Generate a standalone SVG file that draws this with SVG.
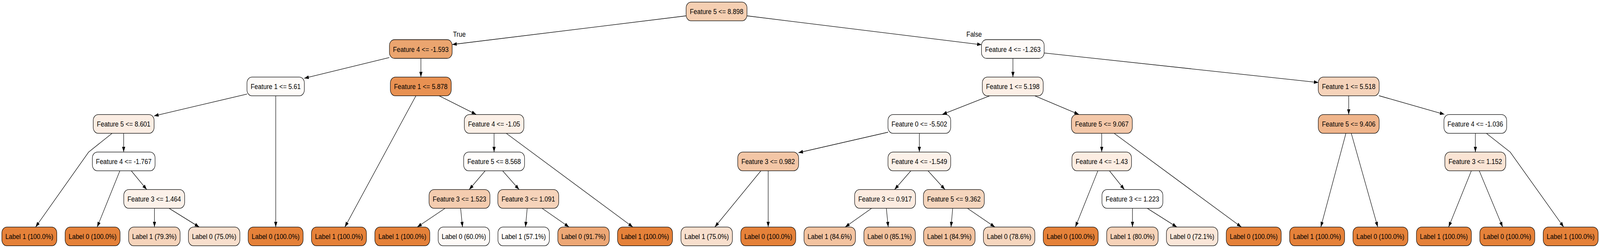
<svg xmlns="http://www.w3.org/2000/svg" width="4746" height="635" viewBox="0 0 4746 635" preserveAspectRatio="none" style="width:100%;height:100%">
<style>
.n rect{stroke:#000;stroke-width:1.33}
text{font-family:"Liberation Sans",Arial,Helvetica,sans-serif;font-size:18.67px;text-anchor:middle;fill:#000}
.e path{stroke:#000;stroke-width:1.33;fill:none;marker-end:url(#a)}
</style>
<defs>
<marker id="a" markerWidth="14" markerHeight="10" refX="13.3" refY="4.67" orient="auto" markerUnits="userSpaceOnUse"><path d="M0,0 L13.3,4.67 L0,9.33 z" fill="#000"/></marker>
</defs>
<rect width="4746" height="635" fill="#fff"/>
<g id="edges" class="e">
<path d="M2035.7,40.5 L1341.5,114"/>
<path d="M2215.3,40.5 L2911.7,114.6"/>
<path d="M1154.6,147.4 L902.6,200.4"/>
<path d="M1248.5,149.4 L1248.5,197.3"/>
<path d="M3004.6,149.4 L3004.6,197.3"/>
<path d="M3096.9,135.6 L3910.7,211.3"/>
<path d="M732.7,240.9 L457.1,296.8"/>
<path d="M817.9,245.3 L817.9,581.3"/>
<path d="M1233.7,245.3 L1023,581.3"/>
<path d="M1302.6,245.3 L1412.2,292.8"/>
<path d="M2935.7,245.3 L2795.4,292.8"/>
<path d="M3069.4,245.3 L3200,292.8"/>
<path d="M4000.6,245.3 L4000.6,293.3"/>
<path d="M4090.4,245 L4284.3,292.8"/>
<path d="M332.7,341.3 L262.8,389.5 L105.6,581.3"/>
<path d="M366.8,341.3 L366.8,389.3"/>
<path d="M1465.5,341.3 L1465.5,389.3"/>
<path d="M1501.5,341.3 L1877,581.3"/>
<path d="M2634.2,338.5 L2368.4,391"/>
<path d="M2727,341.3 L2727,389.3"/>
<path d="M3268,341.3 L3268,389.3"/>
<path d="M3304.6,341.3 L3682.1,581.3"/>
<path d="M3992.4,341.3 L3917.9,581.3"/>
<path d="M4008.2,341.3 L4086.7,581.3"/>
<path d="M4376.3,341.3 L4376.3,389.3"/>
<path d="M4408.8,341.3 L4479.7,389.5 L4638.3,581.3"/>
<path d="M355.6,437.3 L288.3,581.3"/>
<path d="M389.3,437.3 L435.2,485.3"/>
<path d="M1439.3,437.3 L1391.8,485.3"/>
<path d="M1490.8,437.3 L1539.8,485.3"/>
<path d="M2257.1,437.3 L2120.4,581.3"/>
<path d="M2278.6,437.3 L2278.6,581.3"/>
<path d="M2702,437.3 L2653.6,485.3"/>
<path d="M2752.6,437.3 L2803,485.3"/>
<path d="M3256.6,437.3 L3189.8,581.3"/>
<path d="M3290.8,437.3 L3335.2,485.3"/>
<path d="M4364.4,437.3 L4297,581.3"/>
<path d="M4387.8,437.3 L4457.2,581.3"/>
<path d="M458.2,533.3 L458.2,581.3"/>
<path d="M501.5,533.3 L590.8,581.3"/>
<path d="M1320.4,533.3 L1237.8,581.3"/>
<path d="M1366.3,533.3 L1371.9,581.3"/>
<path d="M1563.8,533.3 L1558.7,581.3"/>
<path d="M1607.7,533.3 L1687.8,581.3"/>
<path d="M2585.7,533.3 L2507.1,581.3"/>
<path d="M2629.1,533.3 L2634.7,581.3"/>
<path d="M2826,533.3 L2820.9,581.3"/>
<path d="M2869.4,533.3 L2951,581.3"/>
<path d="M3359.2,533.3 L3359.2,581.3"/>
<path d="M3403,533.3 L3490.8,581.3"/>
<text x="1362.5" y="94.5">True</text>
<text x="2889.5" y="94.5">False</text>
</g>
<g id="n0" class="n"><rect x="2035.2" y="5.3" width="180.6" height="48" rx="15" fill="#f5cfb2"/><text x="2125.5" y="36.5">Feature 5 &lt;= 8.898</text></g>
<g id="n1" class="n"><rect x="1155.2" y="101.5" width="186" height="48" rx="15" fill="#eba56f"/><text x="1248.2" y="132.6">Feature 4 &lt;= -1.593</text></g>
<g id="n2" class="n"><rect x="2911.3" y="101.5" width="186" height="48" rx="15" fill="#fefaf7"/><text x="3004.3" y="132.6">Feature 4 &lt;= -1.263</text></g>
<g id="n3" class="n"><rect x="732.6" y="197.3" width="170.2" height="48" rx="15" fill="#fefbf8"/><text x="817.7" y="228.5">Feature 1 &lt;= 5.61</text></g>
<g id="n4" class="n"><rect x="1157.9" y="197.3" width="180.6" height="48" rx="15" fill="#e89152"/><text x="1248.2" y="228.5">Feature 1 &lt;= 5.878</text></g>
<g id="n5" class="n"><rect x="2913.8" y="197.3" width="180.6" height="48" rx="15" fill="#fcefe6"/><text x="3004.1" y="228.5">Feature 1 &lt;= 5.198</text></g>
<g id="n6" class="n"><rect x="3910.3" y="197.3" width="180.6" height="48" rx="15" fill="#f6d3ba"/><text x="4000.6" y="228.5">Feature 1 &lt;= 5.518</text></g>
<g id="n7" class="n"><rect x="276.5" y="293.3" width="180.6" height="48" rx="15" fill="#fbede3"/><text x="366.8" y="324.5">Feature 5 &lt;= 8.601</text></g>
<g id="n8" class="n"><rect x="1377.3" y="293.3" width="176.6" height="48" rx="15" fill="#fcf0e7"/><text x="1465.6" y="324.5">Feature 4 &lt;= -1.05</text></g>
<g id="n9" class="n"><rect x="2634" y="293.3" width="186" height="48" rx="15" fill="#fefcfa"/><text x="2727" y="324.5">Feature 0 &lt;= -5.502</text></g>
<g id="n10" class="n"><rect x="3178.1" y="293.3" width="180.6" height="48" rx="15" fill="#f4c8a9"/><text x="3268.4" y="324.5">Feature 5 &lt;= 9.067</text></g>
<g id="n11" class="n"><rect x="3910.3" y="293.3" width="180.6" height="48" rx="15" fill="#f0b58b"/><text x="4000.6" y="324.5">Feature 5 &lt;= 9.406</text></g>
<g id="n12" class="n"><rect x="4283.1" y="293.3" width="186" height="48" rx="15" fill="#ffffff"/><text x="4376.1" y="324.5">Feature 4 &lt;= -1.036</text></g>
<g id="n13" class="n"><rect x="274" y="389.3" width="186" height="48" rx="15" fill="#ffffff"/><text x="367" y="420.5">Feature 4 &lt;= -1.767</text></g>
<g id="n14" class="n"><rect x="1375.3" y="389.3" width="180.6" height="48" rx="15" fill="#fffdfc"/><text x="1465.6" y="420.5">Feature 5 &lt;= 8.568</text></g>
<g id="n15" class="n"><rect x="2188.3" y="389.3" width="180.6" height="48" rx="15" fill="#f3c6a6"/><text x="2278.6" y="420.5">Feature 3 &lt;= 0.982</text></g>
<g id="n16" class="n"><rect x="2634" y="389.3" width="186" height="48" rx="15" fill="#fcf1e9"/><text x="2727" y="420.5">Feature 4 &lt;= -1.549</text></g>
<g id="n17" class="n"><rect x="3179.7" y="389.3" width="176.6" height="48" rx="15" fill="#fcede2"/><text x="3268" y="420.5">Feature 4 &lt;= -1.43</text></g>
<g id="n18" class="n"><rect x="4285.8" y="389.3" width="180.6" height="48" rx="15" fill="#fae4d4"/><text x="4376.1" y="420.5">Feature 3 &lt;= 1.152</text></g>
<g id="n19" class="n"><rect x="367.1" y="485.3" width="180.6" height="48" rx="15" fill="#fcf1e9"/><text x="457.4" y="516.5">Feature 3 &lt;= 1.464</text></g>
<g id="n20" class="n"><rect x="1272.7" y="485.3" width="180.6" height="48" rx="15" fill="#f4ccaf"/><text x="1363" y="516.5">Feature 3 &lt;= 1.523</text></g>
<g id="n21" class="n"><rect x="1476.7" y="485.3" width="180.6" height="48" rx="15" fill="#f6d3ba"/><text x="1567" y="516.5">Feature 3 &lt;= 1.091</text></g>
<g id="n22" class="n"><rect x="2535" y="485.3" width="180.6" height="48" rx="15" fill="#fcebe0"/><text x="2625.3" y="516.5">Feature 3 &lt;= 0.917</text></g>
<g id="n23" class="n"><rect x="2739.1" y="485.3" width="180.6" height="48" rx="15" fill="#f5d5bd"/><text x="2829.4" y="516.5">Feature 5 &lt;= 9.362</text></g>
<g id="n24" class="n"><rect x="3268.7" y="485.3" width="180.6" height="48" rx="15" fill="#ffffff"/><text x="3359" y="516.5">Feature 3 &lt;= 1.223</text></g>
<g id="l0" class="n"><rect x="5.5" y="581.3" width="163" height="48" rx="15" fill="#e58139"/><text x="87" y="612.5">Label 1 (100.0%)</text></g>
<g id="l1" class="n"><rect x="193.2" y="581.3" width="163" height="48" rx="15" fill="#e58139"/><text x="274.7" y="612.5">Label 0 (100.0%)</text></g>
<g id="l2" class="n"><rect x="381.6" y="581.3" width="152.6" height="48" rx="15" fill="#f6d4bb"/><text x="457.9" y="612.5">Label 1 (79.3%)</text></g>
<g id="l3" class="n"><rect x="558.9" y="581.3" width="152.6" height="48" rx="15" fill="#f8dfcd"/><text x="635.2" y="612.5">Label 0 (75.0%)</text></g>
<g id="l4" class="n"><rect x="736.1" y="581.3" width="163" height="48" rx="15" fill="#e58139"/><text x="817.6" y="612.5">Label 0 (100.0%)</text></g>
<g id="l5" class="n"><rect x="923.9" y="581.3" width="163" height="48" rx="15" fill="#e58139"/><text x="1005.4" y="612.5">Label 1 (100.0%)</text></g>
<g id="l6" class="n"><rect x="1111.9" y="581.3" width="163" height="48" rx="15" fill="#e58139"/><text x="1193.4" y="612.5">Label 1 (100.0%)</text></g>
<g id="l7" class="n"><rect x="1299.7" y="581.3" width="152.6" height="48" rx="15" fill="#fefaf7"/><text x="1376" y="612.5">Label 0 (60.0%)</text></g>
<g id="l8" class="n"><rect x="1477" y="581.3" width="152.6" height="48" rx="15" fill="#fefcfb"/><text x="1553.3" y="612.5">Label 1 (57.1%)</text></g>
<g id="l9" class="n"><rect x="1654.6" y="581.3" width="152.6" height="48" rx="15" fill="#eda775"/><text x="1730.9" y="612.5">Label 0 (91.7%)</text></g>
<g id="l10" class="n"><rect x="1831.8" y="581.3" width="163" height="48" rx="15" fill="#e58139"/><text x="1913.3" y="612.5">Label 1 (100.0%)</text></g>
<g id="l11" class="n"><rect x="2019.9" y="581.3" width="152.6" height="48" rx="15" fill="#f8dfcd"/><text x="2096.2" y="612.5">Label 1 (75.0%)</text></g>
<g id="l12" class="n"><rect x="2197.3" y="581.3" width="163" height="48" rx="15" fill="#e58139"/><text x="2278.8" y="612.5">Label 0 (100.0%)</text></g>
<g id="l13" class="n"><rect x="2384.9" y="581.3" width="152.6" height="48" rx="15" fill="#f3c3a0"/><text x="2461.2" y="612.5">Label 1 (84.6%)</text></g>
<g id="l14" class="n"><rect x="2562.5" y="581.3" width="152.6" height="48" rx="15" fill="#f2c19d"/><text x="2638.8" y="612.5">Label 0 (85.1%)</text></g>
<g id="l15" class="n"><rect x="2739.7" y="581.3" width="152.6" height="48" rx="15" fill="#f2c29f"/><text x="2816" y="612.5">Label 1 (84.9%)</text></g>
<g id="l16" class="n"><rect x="2917" y="581.3" width="152.6" height="48" rx="15" fill="#f6d6be"/><text x="2993.3" y="612.5">Label 0 (78.6%)</text></g>
<g id="l17" class="n"><rect x="3094.5" y="581.3" width="163" height="48" rx="15" fill="#e58139"/><text x="3176" y="612.5">Label 0 (100.0%)</text></g>
<g id="l18" class="n"><rect x="3282.7" y="581.3" width="152.6" height="48" rx="15" fill="#f6d2b8"/><text x="3359" y="612.5">Label 1 (80.0%)</text></g>
<g id="l19" class="n"><rect x="3459.9" y="581.3" width="152.6" height="48" rx="15" fill="#fae6d8"/><text x="3536.2" y="612.5">Label 0 (72.1%)</text></g>
<g id="l20" class="n"><rect x="3637.4" y="581.3" width="163" height="48" rx="15" fill="#e58139"/><text x="3718.9" y="612.5">Label 0 (100.0%)</text></g>
<g id="l21" class="n"><rect x="3825.4" y="581.3" width="163" height="48" rx="15" fill="#e58139"/><text x="3906.9" y="612.5">Label 1 (100.0%)</text></g>
<g id="l22" class="n"><rect x="4013.2" y="581.3" width="163" height="48" rx="15" fill="#e58139"/><text x="4094.7" y="612.5">Label 0 (100.0%)</text></g>
<g id="l23" class="n"><rect x="4201.5" y="581.3" width="163" height="48" rx="15" fill="#e58139"/><text x="4283" y="612.5">Label 1 (100.0%)</text></g>
<g id="l24" class="n"><rect x="4389.5" y="581.3" width="163" height="48" rx="15" fill="#e58139"/><text x="4471" y="612.5">Label 0 (100.0%)</text></g>
<g id="l25" class="n"><rect x="4577.5" y="581.3" width="163" height="48" rx="15" fill="#e58139"/><text x="4659" y="612.5">Label 1 (100.0%)</text></g>
</svg>
